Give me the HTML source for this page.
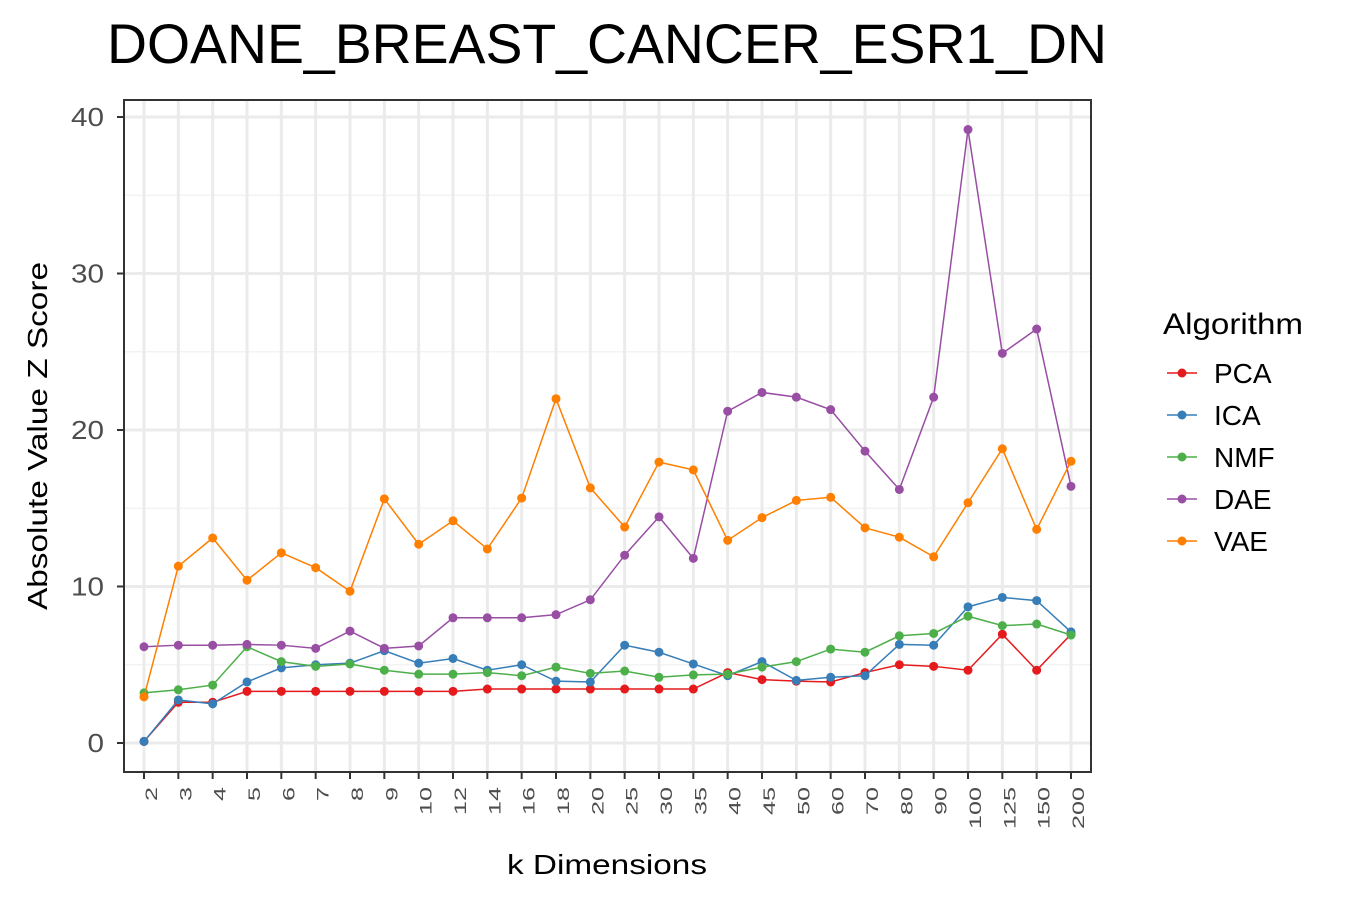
<!DOCTYPE html>
<html><head><meta charset="utf-8"><style>
body{margin:0;background:#fff;font-family:"Liberation Sans",Arial,sans-serif}
svg text{font-family:"Liberation Sans",Arial,sans-serif}
</style></head><body>
<svg id="chart" width="1350" height="900" xmlns="http://www.w3.org/2000/svg">
<text x="107" y="63" font-size="56" textLength="1000" lengthAdjust="spacingAndGlyphs" fill="#000">DOANE_BREAST_CANCER_ESR1_DN</text>
<g id="grid"></g>
<g id="series"></g>
<rect x="124" y="100" width="967" height="672" fill="none" stroke="#333" stroke-width="2"/>
<g id="axes"></g>
<text transform="translate(47,436) rotate(-90)" text-anchor="middle" font-size="28" textLength="348" lengthAdjust="spacingAndGlyphs" fill="#000">Absolute Value Z Score</text>
<text x="607" y="874" text-anchor="middle" font-size="28" textLength="200" lengthAdjust="spacingAndGlyphs" fill="#000">k Dimensions</text>
<g id="legend"><text x="1163" y="334" font-size="30" textLength="140" lengthAdjust="spacingAndGlyphs" fill="#000">Algorithm</text></g>
</svg>
<script>
const categories=["2","3","4","5","6","7","8","9","10","12","14","16","18","20","25","30","35","40","45","50","60","70","80","90","100","125","150","200"];
const seriesNames=["PCA","ICA","NMF","DAE","VAE"];
const seriesColors=["#e41a1c","#377eb8","#4daf4a","#984ea3","#ff7f00"];
const pcaValues=[0.1,2.6,2.6,3.3,3.3,3.3,3.3,3.3,3.3,3.3,3.45,3.45,3.45,3.45,3.45,3.45,3.45,4.5,4.05,3.95,3.9,4.5,5.0,4.9,4.65,6.95,4.65,6.95];
const icaValues=[0.1,2.75,2.5,3.9,4.8,5.0,5.1,5.9,5.1,5.4,4.65,5.0,3.95,3.9,6.25,5.8,5.05,4.3,5.2,4.0,4.2,4.3,6.3,6.25,8.7,9.3,9.1,7.1];
const nmfValues=[3.2,3.4,3.7,6.15,5.2,4.9,5.05,4.65,4.4,4.4,4.5,4.3,4.85,4.45,4.6,4.2,4.35,4.4,4.85,5.2,6.0,5.8,6.85,7.0,8.1,7.5,7.6,6.9];
const daeValues=[6.15,6.25,6.25,6.3,6.25,6.05,7.15,6.05,6.2,8.0,8.0,8.0,8.2,9.15,12.0,14.45,11.8,21.2,22.4,22.1,21.3,18.65,16.2,22.1,39.2,24.9,26.45,16.4];
const vaeValues=[2.95,11.3,13.1,10.4,12.15,11.2,9.7,15.6,12.7,14.2,12.4,15.65,22.0,16.3,13.8,17.95,17.45,12.95,14.4,15.5,15.7,13.75,13.15,11.9,15.35,18.8,13.65,18.0];
const yTicks=[0,10,20,30,40];
const yMinor=[5,15,25,35];
const allSeries=[pcaValues,icaValues,nmfValues,daeValues,vaeValues];
const NS="http://www.w3.org/2000/svg";
const X0=144,X1=1071,Y0=743,Y40=117;
const xs=i=>X0+i*(X1-X0)/(categories.length-1);
const ys=v=>Y0+(Y40-Y0)*v/40;
function mk(tag,attrs,parent){const e=document.createElementNS(NS,tag);for(const k in attrs)e.setAttribute(k,attrs[k]);parent.appendChild(e);return e;}
const grid=document.getElementById('grid'),axes=document.getElementById('axes'),ser=document.getElementById('series'),leg=document.getElementById('legend');
mk('rect',{x:124,y:100,width:967,height:672,fill:'#fff'},grid);
yMinor.forEach(v=>{const l=mk('line',{x1:124,x2:1091,y1:ys(v),y2:ys(v),stroke:'#f3f3f3','stroke-width':1.5},grid);

});
yTicks.forEach(v=>{const l=mk('line',{x1:124,x2:1091,y1:ys(v),y2:ys(v),stroke:'#ebebeb','stroke-width':3},grid);


const t=mk('line',{x1:117,x2:124,y1:ys(v),y2:ys(v),stroke:'#333','stroke-width':2},axes);


const s=String(v);
const tx=mk('text',{x:104,y:ys(v)+9,'text-anchor':'end','font-size':26,textLength:16.5*s.length,lengthAdjust:'spacingAndGlyphs',fill:'#4d4d4d'},axes);tx.textContent=s;

});
categories.forEach((c,i)=>{const x=xs(i);
const l=mk('line',{x1:x,x2:x,y1:100,y2:772,stroke:'#ebebeb','stroke-width':3},grid);


const t=mk('line',{x1:x,x2:x,y1:772,y2:779,stroke:'#333','stroke-width':2},axes);


const tx=mk('text',{transform:`translate(${x+13},${787}) rotate(-90)`,'text-anchor':'end','font-size':17,textLength:14*c.length,lengthAdjust:'spacingAndGlyphs',fill:'#4d4d4d'},axes);tx.textContent=c;

});
allSeries.forEach((vals,s)=>{const col=seriesColors[s];
const p=mk('polyline',{points:vals.map((v,i)=>xs(i)+','+ys(v)).join(' '),fill:'none',stroke:col,'stroke-width':1.5},ser);


vals.forEach((v,i)=>{const c=mk('circle',{cx:xs(i),cy:ys(v),r:4.5,fill:col},ser);

});
const ly=373+s*42;
const ll=mk('line',{x1:1167,x2:1197,y1:ly,y2:ly,stroke:col,'stroke-width':1.5},leg);


const lc=mk('circle',{cx:1182,cy:ly,r:4.5,fill:col},leg);


const lt=mk('text',{x:1214,y:ly+10,'font-size':28,fill:'#000'},leg);lt.textContent=seriesNames[s];

});
</script>
</body></html>
